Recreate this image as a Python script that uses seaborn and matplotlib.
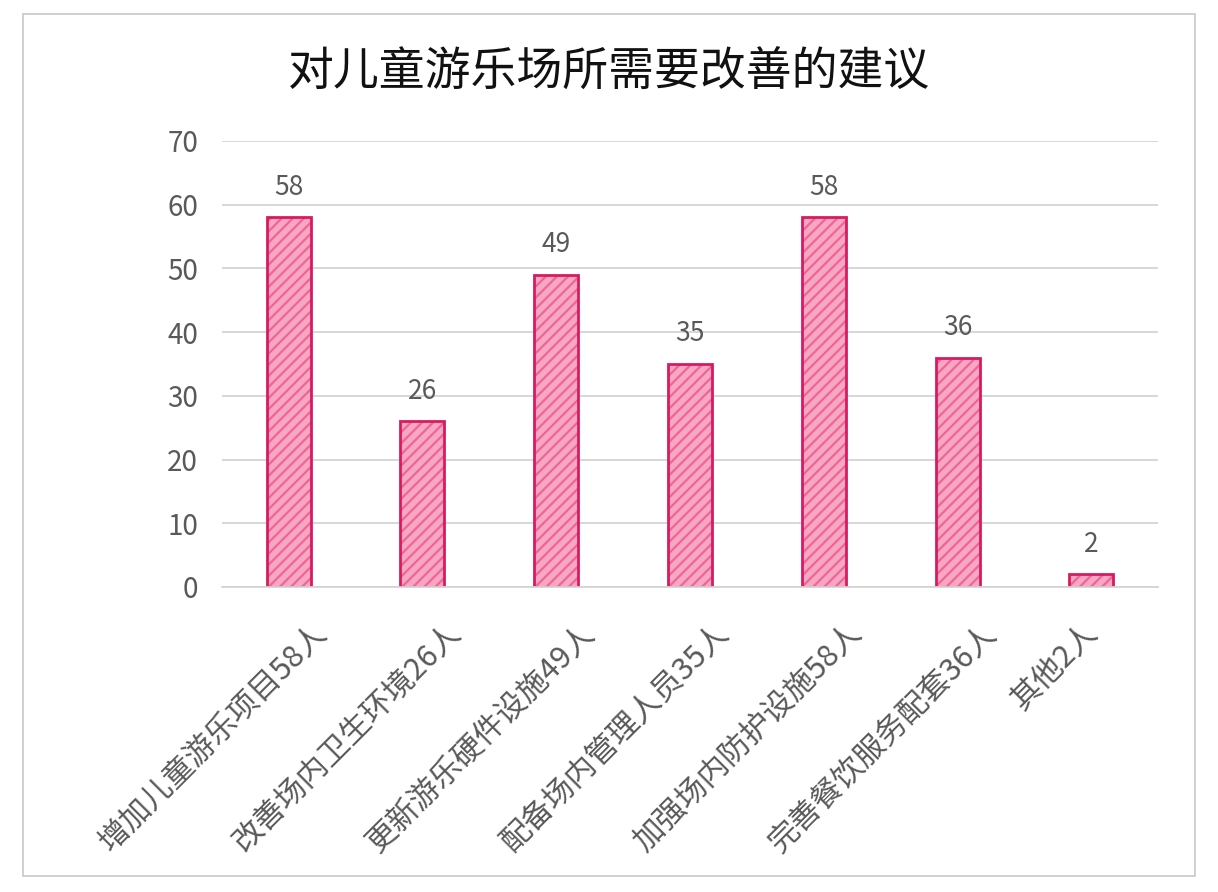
import matplotlib
matplotlib.use("Agg")
import matplotlib.pyplot as plt
import matplotlib.transforms as mtrans
import seaborn as sns
import pandas as pd
from matplotlib.patches import Rectangle

categories = ["增加儿童游乐项目58人", "改善场内卫生环境26人", "更新游乐硬件设施49人",
              "配备场内管理人员35人", "加强场内防护设施58人", "完善餐饮服务配套36人", "其他2人"]
values = [58, 26, 49, 35, 58, 36, 2]
yticks = [0, 10, 20, 30, 40, 50, 60, 70]
title = "对儿童游乐场所需要改善的建议"

sns.set_theme(style="white")
plt.rcParams['font.family'] = ['Noto Sans CJK SC', 'DejaVu Sans']
plt.rcParams['hatch.linewidth'] = 1.6

df = pd.DataFrame({"cat": categories, "val": values})

fig = plt.figure(figsize=(12.18, 8.92), dpi=100)
fig.patch.set_facecolor("white")
ax = fig.add_axes([0.182, 0.342, 0.769, 0.500])

sns.barplot(data=df, x="cat", y="val", ax=ax, color="#F7A3C2", width=0.33,
            edgecolor="#EC5C8E", linewidth=0, hatch="///")
for p in list(ax.patches):
    p.set_facecolor("#F7A6C4")
    p.set_edgecolor("#EE6694")
    p.set_linewidth(0)
    p.set_hatch("///")
    outline = Rectangle(p.get_xy(), p.get_width(), p.get_height(), fill=False,
                        edgecolor="#D81B60", linewidth=2.0, zorder=p.get_zorder() + 0.1)
    ax.add_patch(outline)

ax.set_ylim(0, 70)
ax.set_yticks(yticks)
ax.set_yticklabels([str(t) for t in yticks], fontsize=20, color="#595959",
                   fontweight="light")
ax.yaxis.grid(True, color="#D4D4D4", linewidth=1.3)
ax.set_axisbelow(True)
for s in ["top", "right", "left"]:
    ax.spines[s].set_visible(False)
ax.spines["bottom"].set_color("#D4D4D4")
ax.spines["bottom"].set_linewidth(1.3)
ax.tick_params(axis="y", length=0, pad=17)
ax.tick_params(axis="x", length=0, pad=0)
ax.set_xlabel("")
ax.set_ylabel("")
ax.set_xticks(range(len(categories)))
ax.set_xticklabels(categories, rotation=45, ha="right", va="center",
                   rotation_mode="anchor", fontsize=22, color="#595959",
                   fontweight="light")
label_dx = [34, 34, 34, 34, 34, 34, 2]
for lab, dx in zip(ax.get_xticklabels(), label_dx):
    lab.set_transform(lab.get_transform() +
                      mtrans.ScaledTranslation(dx / 100, -42 / 100, fig.dpi_scale_trans))

for i, v in enumerate(values):
    ax.annotate(str(v), (i, v), xytext=(0, 12), textcoords="offset points",
                ha="center", va="bottom", fontsize=19, color="#595959",
                fontweight="light")

fig.text(0.5, 0.919, title, ha="center", va="center", fontsize=33,
         color="#111111", fontweight="medium")

fig.patches.append(Rectangle((23/1218, 1-876/892), (1195-23)/1218, (876-14)/892,
                             transform=fig.transFigure, fill=False,
                             edgecolor="#C8C8C8", linewidth=1.2))

fig.savefig("out.png", dpi=100, facecolor="white")
